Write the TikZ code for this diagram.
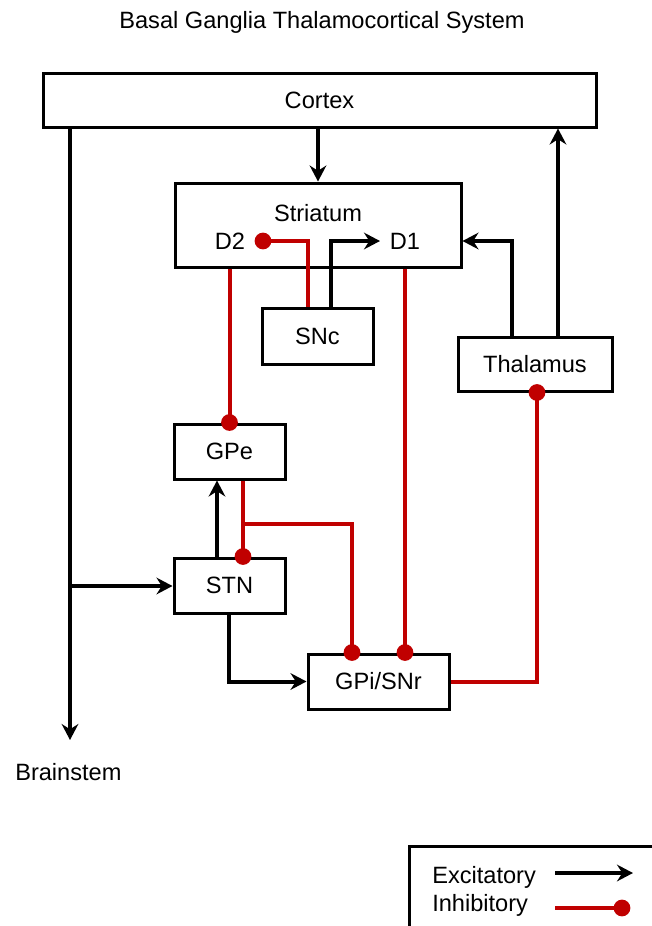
\documentclass[tikz,border=0pt]{standalone}
\usepackage{fontspec}
\setmainfont{Liberation Sans}
\usetikzlibrary{arrows.meta,calc}
\definecolor{inhred}{HTML}{C00000}
\newcommand{\dfont}{\fontsize{17.7}{21}\selectfont}
\begin{document}
\begin{tikzpicture}[x=0.75pt,y=-0.75pt,
  box/.style={draw, line width=2.25pt, rectangle, inner sep=0pt, font=\dfont},
  lbl/.style={inner sep=0pt, font=\dfont},
  exc/.style={line width=3pt, -{Stealth[length=12pt,width=12.5pt,inset=4pt]}},
  inh/.style={line width=3pt, draw=inhred, -{Circle[length=12.5pt]}, shorten >=-6.25pt},
  ]
\useasboundingbox (0,0) rectangle (652,926);
\clip (0,0) rectangle (652,926);
% title
\node[lbl, anchor=base] (title) at (322,28) {Basal Ganglia Thalamocortical System};
% boxes
\node[box, minimum width=414.75pt, minimum height=40.5pt] (cortex) at (319.5,100) {Cortex};
\node[box, minimum width=214.5pt, minimum height=63pt] (stri) at (318,225) {};
\node[lbl, anchor=base] (strilbl) at (318,221) {Striatum};
\node[lbl, anchor=base] (d2) at (230,249) {D2};
\node[lbl, anchor=base] (d1) at (405,249) {D1};
\node[box, minimum width=83.25pt, minimum height=42pt] (snc) at (317.5,336) {SNc};
\node[box, minimum width=83.25pt, minimum height=41.25pt] (gpe) at (229.5,451.5) {GPe};
\node[box, minimum width=83.25pt, minimum height=41.25pt] (stn) at (229.5,585.5) {STN};
\node[box, minimum width=105.75pt, minimum height=41.25pt] (gpi) at (378.5,681.5) {GPi/SNr};
\node[box, minimum width=115.5pt, minimum height=40.5pt] (thal) at (535,364) {Thalamus};
\node[lbl, anchor=base west] (brainstem) at (15,780) {Brainstem};
% helper coordinates
\coordinate (bsend) at (70,740);
\coordinate (br) at (70,586);
\coordinate (d2dot) at (263,241);
\coordinate (d1tip) at (380,241);
\coordinate (gpebr) at (243,524);
\coordinate (tc) at ($(thal.north)+(23,0)$);
\coordinate (ts) at ($(thal.north)+(-23,0)$);
% excitatory
\draw[exc] (cortex.south -| stri.north) -- (stri.north);
\draw[exc] (cortex.south -| bsend) -- (bsend);
\draw[exc] (br) -- (br -| stn.west);
\draw[exc] ($(snc.north)+(13.5,0)$) |- (d1tip);
\draw[exc] ($(stn.north)+(-12.5,0)$) -- ($(gpe.south)+(-12.5,0)$);
\draw[exc] ($(stn.south)+(-0.5,0)$) |- (gpi.west);
\draw[exc] (ts) |- (stri.east |- d1tip);
\draw[exc] (tc) -- (cortex.south -| tc);
% inhibitory
\draw[inh] ($(snc.north)+(-9.5,0)$) |- (d2dot);
\draw[inh] (stri.south -| gpe.north) -- (gpe.north);
\draw[inh] (stri.south -| d1) -- (gpi.north -| d1);
\draw[inh] ($(gpe.south)+(13.5,0)$) -- ($(stn.north)+(13.5,0)$);
\draw[inh] (gpebr) -| ($(gpi.north)+(-26.5,0)$);
\draw[inh] (gpi.east) -| ($(thal.south)+(2,0)$);
% legend
\draw[line width=2.25pt] (660,846) -| (409,935);
\node[lbl, anchor=base west] (exclbl) at (432,883) {Excitatory};
\node[lbl, anchor=base west] (inhlbl) at (432,911) {Inhibitory};
\coordinate (ea) at (555,873);
\coordinate (eb) at (633,873);
\coordinate (ia) at (555,908);
\coordinate (ib) at (622,908);
\draw[exc] (ea) -- (eb);
\draw[inh] (ia) -- (ib);
\end{tikzpicture}
\end{document}
